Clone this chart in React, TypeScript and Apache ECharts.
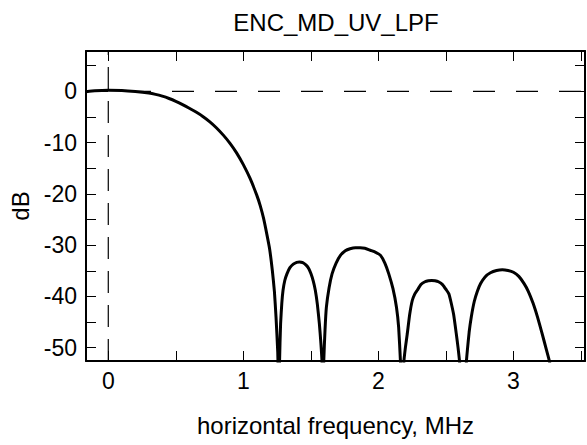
import React, { useEffect, useRef } from "react";
import * as echarts from "echarts";

// frequency (MHz) and response (dB)
const mainLobeFreq: number[] = [
  -0.165, -0.1, 0, 0.1, 0.2, 0.3, 0.35, 0.4, 0.45, 0.5, 0.55, 0.6, 0.65, 0.7, 0.75, 0.8, 0.85, 0.9, 0.95,
  1.0, 1.05, 1.1, 1.125, 1.15, 1.175, 1.195, 1.215, 1.23, 1.242, 1.255, 1.266,
];
const mainLobeDb: number[] = [
  -0.1, 0.1, 0.2, 0.15, -0.05, -0.35, -0.6, -0.95, -1.4, -1.95, -2.6, -3.3, -4.05, -4.9, -5.9, -7.1, -8.5, -10.1, -12.0,
  -14.3, -17.0, -20.3, -22.3, -24.8, -28.0, -30.8, -35.0, -39.0, -44.0, -51.0, -65.0,
];
const lobe1Freq: number[] = [
  1.268, 1.276, 1.285, 1.294, 1.307, 1.323, 1.345, 1.37, 1.395, 1.415, 1.44, 1.465, 1.485, 1.501, 1.518, 1.533,
  1.548, 1.563, 1.574, 1.583, 1.589,
];
const lobe1Db: number[] = [
  -53, -45.3, -41.3, -38.8, -36.9, -35.6, -34.4, -33.7, -33.35, -33.3, -33.4, -33.9, -34.6, -35.6, -37.0, -38.8,
  -41.5, -45.3, -49.0, -53, -65,
];
const lobe2Freq: number[] = [
  1.595, 1.605, 1.615, 1.635, 1.657, 1.687, 1.719, 1.755, 1.79, 1.83, 1.865, 1.9, 1.94, 1.98, 2.016, 2.048, 2.077,
  2.108, 2.134, 2.15, 2.164, 2.176,
];
const lobe2Db: number[] = [
  -53, -46.5, -42.1, -38.3, -35.6, -33.5, -32.0, -31.1, -30.7, -30.5, -30.5, -30.6, -31.0, -31.4, -32.0, -33.5, -35.6,
  -38.5, -42.1, -46.0, -53, -65,
];
const lobe3Freq: number[] = [
  2.188, 2.2, 2.214, 2.232, 2.251, 2.27, 2.288, 2.315, 2.345, 2.37, 2.395, 2.42, 2.445, 2.475, 2.505, 2.522, 2.535,
  2.557, 2.577, 2.59, 2.602, 2.626,
];
const lobe3Db: number[] = [
  -53, -50.0, -47.3, -43.5, -40.8, -39.5, -38.8, -37.7, -37.15, -36.95, -36.9, -36.95, -37.15, -37.7, -38.8, -39.5, -40.8,
  -43.5, -47.3, -50.0, -53, -65,
];
const lobe4Freq: number[] = [
  2.651, 2.659, 2.672, 2.688, 2.71, 2.733, 2.757, 2.79, 2.83, 2.875, 2.918, 2.96, 3.0, 3.04, 3.079, 3.11, 3.145,
  3.178, 3.21, 3.245, 3.269, 3.28,
];
const lobe4Db: number[] = [
  -53, -50.5, -47.0, -44.0, -41.0, -39.0, -37.5, -36.2, -35.4, -34.95, -34.8, -34.95, -35.3, -36.1, -37.5, -39.0, -41.3,
  -44.0, -47.0, -50.5, -53, -60,
];

const xMin = -0.165;
const xMax = 3.53;
const yMin = -52.6;
const yMax = 7.86;
const xTickValues: number[] = [0, 0.5, 1, 1.5, 2, 2.5, 3, 3.5];
const xLabelValues: number[] = [0, 1, 2, 3];
const yTickValues: number[] = [-50, -45, -40, -35, -30, -25, -20, -15, -10, -5, 0, 5];
const yLabelValues: number[] = [-50, -40, -30, -20, -10, 0];
const zeroDbLine: number[][] = [[xMin, 0], [xMax, 0]];
const zeroFreqLine: number[][] = [[0, yMin], [0, yMax]];

const FONT = "'Liberation Sans', Arial, Helvetica, sans-serif";

export default function App() {
  const ref = useRef<HTMLDivElement>(null);
  useEffect(() => {
    if (!ref.current) return;
    const chart = echarts.init(ref.current, undefined, { renderer: "svg" });
    const axisLine = { show: true, onZero: false, lineStyle: { color: "#000", width: 2 } };
    const tick = (vals: number[]) => ({
      show: true,
      inside: true,
      length: 10,
      customValues: vals,
      lineStyle: { color: "#000", width: 1 },
    });
    const freqs = [...mainLobeFreq, ...lobe1Freq, ...lobe2Freq, ...lobe3Freq, ...lobe4Freq];
    const dbs = [...mainLobeDb, ...lobe1Db, ...lobe2Db, ...lobe3Db, ...lobe4Db];
    const points = freqs.map((f, i) => [f, dbs[i]]);
    chart.setOption({
      animation: false,
      backgroundColor: "#fff",
      title: {
        text: "ENC_MD_UV_LPF",
        left: 336,
        top: 10,
        padding: 0,
        textAlign: "center",
        textStyle: { fontFamily: FONT, fontSize: 24, fontWeight: "normal", color: "#000" },
      },
      grid: { left: 86, right: 2, top: 51, bottom: 84, containLabel: false },
      xAxis: [
        {
          type: "value",
          min: xMin,
          max: xMax,
          position: "bottom",
          axisLine,
          axisTick: tick(xTickValues),
          axisLabel: {
            customValues: xLabelValues,
            margin: 8,
            fontFamily: FONT,
            fontSize: 23,
            color: "#000",
          },
          splitLine: { show: false },
          name: "horizontal frequency, MHz",
          nameLocation: "middle",
          nameGap: 52,
          nameTextStyle: { fontFamily: FONT, fontSize: 24, color: "#000" },
        },
        {
          type: "value",
          min: xMin,
          max: xMax,
          position: "top",
          axisLine,
          axisTick: tick(xTickValues),
          axisLabel: { show: false },
          splitLine: { show: false },
        },
      ],
      yAxis: [
        {
          type: "value",
          min: yMin,
          max: yMax,
          position: "left",
          axisLine,
          axisTick: tick(yTickValues),
          axisLabel: {
            customValues: yLabelValues,
            margin: 9,
            fontFamily: FONT,
            fontSize: 23,
            color: "#000",
          },
          splitLine: { show: false },
          name: "dB",
          nameLocation: "middle",
          nameGap: 49,
          nameTextStyle: { fontFamily: FONT, fontSize: 24, color: "#000" },
        },
        {
          type: "value",
          min: yMin,
          max: yMax,
          position: "right",
          axisLine,
          axisTick: tick(yTickValues),
          axisLabel: { show: false },
          splitLine: { show: false },
        },
      ],
      series: [
        {
          type: "line",
          data: zeroDbLine,
          symbol: "none",
          silent: true,
          lineStyle: { color: "#000", width: 1.2, type: [22, 21] },
        },
        {
          type: "line",
          data: zeroFreqLine,
          symbol: "none",
          silent: true,
          lineStyle: { color: "#000", width: 1.2, type: [22, 12] },
        },
        {
          type: "line",
          data: points,
          symbol: "none",
          smooth: 0.15,
          clip: true,
          lineStyle: { color: "#000", width: 3 },
        },
      ],
    });
    return () => chart.dispose();
  }, []);
  return (
    <div
      ref={ref}
      style={{ position: "absolute", left: 0, top: 0, width: 587, height: 445, background: "#fff" }}
    />
  );
}
